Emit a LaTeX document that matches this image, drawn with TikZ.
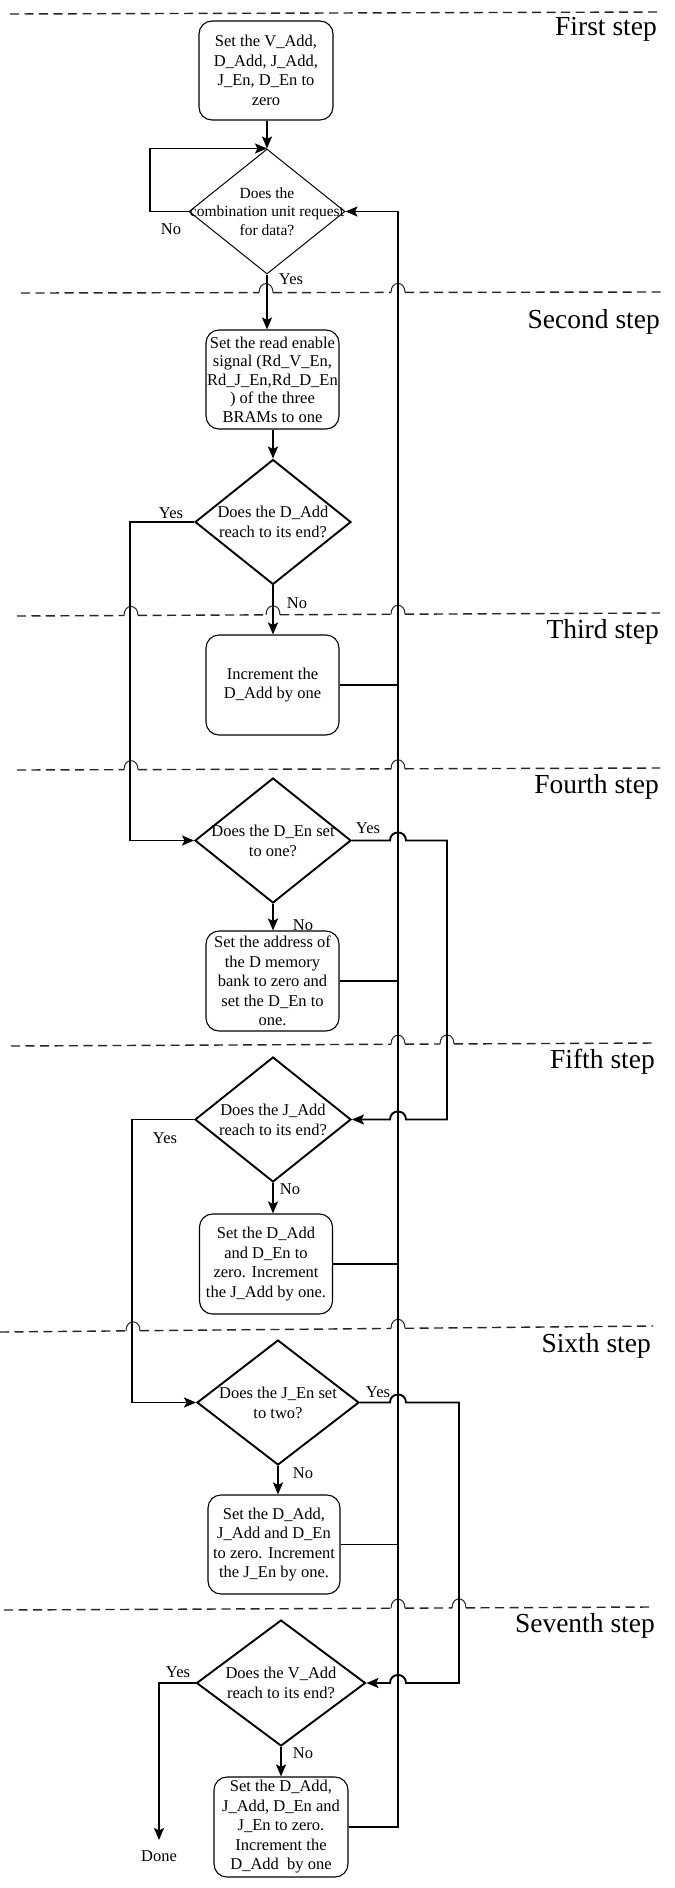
\documentclass[tikz,border=0pt]{standalone}
\usepackage{fontspec}
\setmainfont{Liberation Serif}
\usetikzlibrary{shapes.geometric,arrows.meta,calc}

% Dashed step separator from (#1,#2) to (#3,#4) that hops over the
% vertical lines whose x positions are listed in #5.
\newcommand{\stepsep}[5]{%
  \xdef\sepx{#1}%
  \foreach \jx in {#5}{%
    \pgfmathsetmacro\sepa{\jx-7}%
    \pgfmathsetmacro\sepb{\jx+7}%
    \pgfmathsetmacro\sepy{#2+(#4-#2)*(\sepx-#1)/(#3-#1)}%
    \pgfmathsetmacro\sepya{#2+(#4-#2)*(\sepa-#1)/(#3-#1)}%
    \pgfmathsetmacro\sepyb{#2+(#4-#2)*(\sepb-#1)/(#3-#1)}%
    \draw[sepdash] (\sepx,\sepy) -- (\sepa,\sepya);%
    \draw[sepjump] (\sepa,\sepya) .. controls (\sepa,\sepya-12) and (\sepb,\sepyb-12) .. (\sepb,\sepyb);%
    \xdef\sepx{\sepb}%
  }%
  \pgfmathsetmacro\sepy{#2+(#4-#2)*(\sepx-#1)/(#3-#1)}%
  \draw[sepdash] (\sepx,\sepy) -- (#3,#4);%
}

\begin{document}
\begin{tikzpicture}[x=1bp,y=-1bp,
  every node/.style={font=\fontsize{16.5bp}{19.5bp}\selectfont, inner sep=0pt},
  stepbox/.style={draw, line width=1.1bp, rounded corners=13bp, align=center,
    minimum width=133bp, minimum height=99bp},
  decision/.style={draw, shape=diamond, line width=1.9bp, inner sep=0pt,
    minimum width=156bp, minimum height=125bp},
  dtext/.style={align=center, font=\fontsize{16.5bp}{20bp}\selectfont},
  conn/.style={line width=1.9bp},
  arr/.style={conn, -{Stealth[length=12bp,width=10bp,inset=2.5bp]}},
  tag/.style={font=\fontsize{16.5bp}{19.5bp}\selectfont},
  steplabel/.style={anchor=base east, font=\fontsize{27.5bp}{30bp}\selectfont},
  sepdash/.style={line width=1.4bp, dash pattern=on 9bp off 5.5bp, black!85},
  sepjump/.style={line width=1bp, black!85},
]
\fill[white] (0,0) rectangle (675,1888);
\useasboundingbox (0,0) rectangle (675,1888);

% step separators
\draw[sepdash] (10,14) -- (658,12);
\stepsep{21}{293}{662}{292}{266,398}
\stepsep{17}{616}{660}{613}{131,273,398}
\stepsep{17}{770}{660}{768}{131,398}
\stepsep{11}{1046}{655}{1043}{398,447}
\stepsep{0}{1332}{653}{1326}{133,398}
\stepsep{4}{1610}{649}{1607}{398,459}

% step titles
\node[steplabel] (s1) at (657,35) {First step};
\node[steplabel] (s2) at (660,328) {Second step};
\node[steplabel] (s3) at (659,638) {Third step};
\node[steplabel] (s4) at (659,793) {Fourth step};
\node[steplabel] (s5) at (655,1068) {Fifth step};
\node[steplabel] (s6) at (651,1352) {Sixth step};
\node[steplabel] (s7) at (655,1632) {Seventh step};

% actions and decisions
\node[stepbox, minimum width=134bp] (b1) at (266,70.5)
  {Set the V\_Add,\\D\_Add, J\_Add,\\J\_En, D\_En to\\zero};
\node[decision, line width=1bp,
  label={[dtext, font=\fontsize{15.5bp}{18.5bp}\selectfont]center:Does the\\combination unit request\\for data?}]
  (d1) at (267,211.5) {};
\node[stepbox, font=\fontsize{16.5bp}{18.5bp}\selectfont] (b2) at (272.5,379.5)
  {Set the read enable\\signal (Rd\_V\_En,\\Rd\_J\_En,Rd\_D\_En\\) of the three\\BRAMs to one};
\node[decision, label={[dtext]center:Does the D\_Add\\reach to its end?}] (d2) at (273,522) {};
\node[stepbox, minimum height=100bp] (b3) at (272.5,685) {Increment the\\D\_Add by one};
\node[decision, label={[dtext]center:Does the D\_En set\\to one?}] (d4) at (273,840.5) {};
\node[stepbox, minimum height=100bp] (b4) at (272.5,981)
  {Set the address of\\the D memory\\bank to zero and\\set the D\_En to\\one.};
\node[decision, label={[dtext]center:Does the J\_Add\\reach to its end?}] (d5) at (273,1119.5) {};
\node[stepbox, minimum height=100bp] (b5) at (266,1264)
  {Set the D\_Add\\and D\_En to\\zero. Increment\\the J\_Add by one.};
\node[decision, minimum width=162bp, label={[dtext]center:Does the J\_En set\\to two?}] (d6) at (278,1402.5) {};
\node[stepbox, minimum width=132bp] (b6) at (274,1544.5)
  {Set the D\_Add,\\J\_Add and D\_En\\to zero. Increment\\the J\_En by one.};
\node[decision, minimum width=169bp, minimum height=126bp,
  label={[dtext]center:Does the V\_Add\\reach to its end?}] (d7) at (281,1683) {};
\node[stepbox, minimum width=134bp, minimum height=100bp] (b7) at (281,1827)
  {Set the D\_Add,\\J\_Add, D\_En and\\J\_En to zero.\\Increment the\\D\_Add~ by one};
\node[tag, anchor=base] (done) at (159,1861) {Done};

% helper coordinates for the return line and the side loops
\coordinate (fb) at (398,211.5);
\coordinate (loopA) at (447,0);
\coordinate (loopB) at (459,0);
\coordinate (j4) at (d4.east -| fb);
\coordinate (j5) at (d5.east -| fb);
\coordinate (j6) at (d6.east -| fb);
\coordinate (j7) at (d7.east -| fb);

% main flow
\draw[arr] (b1.south -| d1.north) -- (d1.north);
\draw[arr] (d1.west) -- ++(-38.4,0) |- (d1.north);
\draw[arr] (d1.south) -- (d1.south |- b2.north);
\draw[arr] (d2.north |- b2.south) -- (d2.north);
\draw[arr] (d2.south) -- (d2.south |- b3.north);
\draw[arr] (d2.west) -- ++(-64,0) |- (d4.west);
\draw[arr] (d4.south) -- (d4.south |- b4.north);
\draw[arr] (d5.south) -- (d5.south |- b5.north);
\draw[arr] (d5.west) -- ++(-62,0) |- (d6.west);
\draw[arr] (d6.south) -- (d6.south |- b6.north);
\draw[arr] (d7.south) -- (d7.south |- b7.north);
\draw[arr] (d7.west) -| ([yshift=10bp]done.north);

% return line to the first decision
\draw[arr] (b7.east) -| (fb) -- (d1.east);
\draw[conn] (b3.east) -- (b3.east -| fb);
\draw[conn] (b4.east) -- (b4.east -| fb);
\draw[conn] (b5.east) -- (b5.east -| fb);
\draw[conn] (b6.east) -- (b6.east -| fb);

% side loops hopping over the return line
\draw[arr] (d4.east) -- ([xshift=-8bp]j4)
  .. controls ([xshift=-8bp,yshift=10.7bp]j4) and ([xshift=8bp,yshift=10.7bp]j4) .. ([xshift=8bp]j4)
  -- (d4.east -| loopA) -- (d5.east -| loopA) -- ([xshift=8bp]j5)
  .. controls ([xshift=8bp,yshift=10.7bp]j5) and ([xshift=-8bp,yshift=10.7bp]j5) .. ([xshift=-8bp]j5)
  -- (d5.east);
\draw[arr] (d6.east) -- ([xshift=-8bp]j6)
  .. controls ([xshift=-8bp,yshift=10.7bp]j6) and ([xshift=8bp,yshift=10.7bp]j6) .. ([xshift=8bp]j6)
  -- (d6.east -| loopB) -- (d7.east -| loopB) -- ([xshift=8bp]j7)
  .. controls ([xshift=8bp,yshift=10.7bp]j7) and ([xshift=-8bp,yshift=10.7bp]j7) .. ([xshift=-8bp]j7)
  -- (d7.east);

% branch labels
\node[tag] (l1) at (171,229) {No};
\node[tag] (l2) at (291,279) {Yes};
\node[tag] (l3) at (171,513) {Yes};
\node[tag] (l4) at (297,603) {No};
\node[tag] (l5) at (368,828) {Yes};
\node[tag] (l6) at (303,925) {No};
\node[tag] (l7) at (165,1138) {Yes};
\node[tag] (l8) at (290,1189) {No};
\node[tag] (l9) at (378,1392) {Yes};
\node[tag] (l10) at (303,1473) {No};
\node[tag] (l11) at (178,1672) {Yes};
\node[tag] (l12) at (303,1753) {No};
\end{tikzpicture}
\end{document}
